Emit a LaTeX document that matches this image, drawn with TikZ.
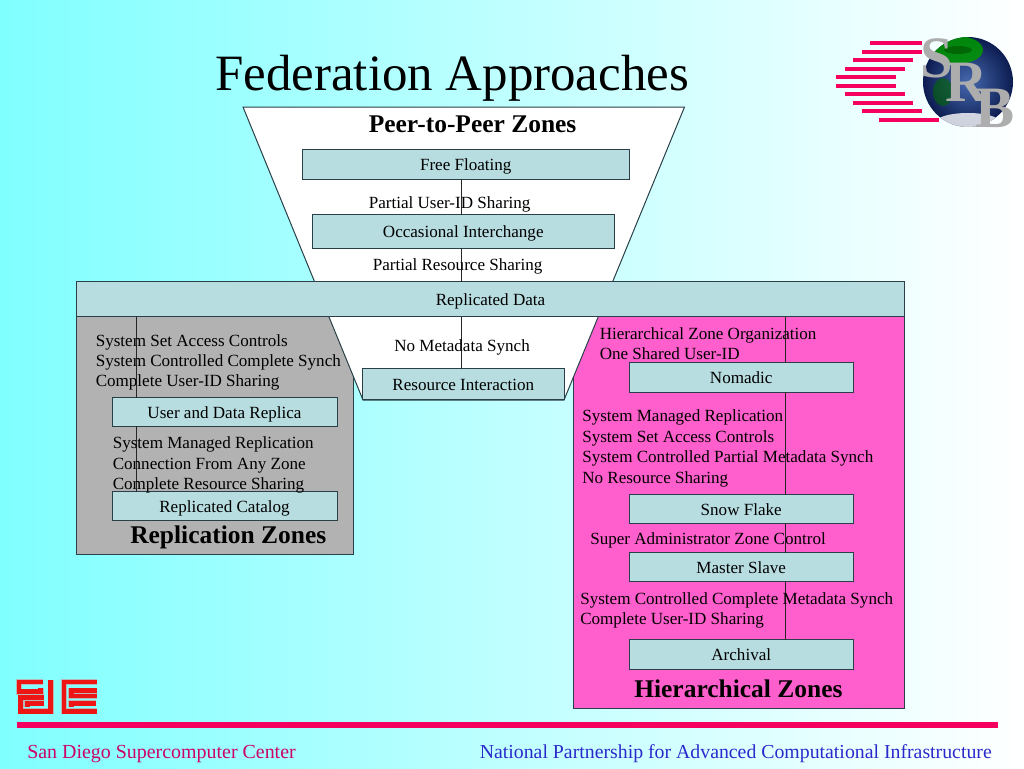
\documentclass[tikz,border=0pt]{standalone}
\usepackage{fontspec}
\setmainfont{Liberation Serif}
\definecolor{boxfill}{HTML}{B8DDE0}
\definecolor{boxline}{HTML}{2A4048}
\definecolor{zonegray}{HTML}{B2B2B2}
\definecolor{zonepink}{HTML}{FF5FCC}
\definecolor{crimsonbar}{HTML}{F5005F}
\definecolor{footred}{HTML}{CC0066}
\definecolor{footblue}{HTML}{2A2ACC}
\definecolor{logored}{HTML}{EE1515}
\tikzset{
  x=0.75pt,y=-0.75pt,
  zonebox/.style={draw=boxline,line width=0.75pt},
  tagbox/.style={draw=boxline,line width=0.75pt,fill=boxfill,inner sep=0pt,outer sep=0pt,
    text height=10pt,text depth=0pt,font=\fontsize{12.8}{14}\selectfont},
  lab/.style={anchor=base west,inner sep=0pt,font=\fontsize{12.8}{14}\selectfont},
  head/.style={anchor=base west,inner sep=0pt,font=\fontsize{19.1}{21}\selectfont\bfseries},
  link/.style={draw=black!85,line width=0.65pt},
  srbbar/.style={fill=crimsonbar,draw=none},
  glyphhalo/.style={draw=black!28,line width=4.4pt,line join=miter},
  glyph/.style={draw=logored,line width=3.5pt,line join=miter},
  srbletter/.style={inner sep=0pt,anchor=base,text=black!32,font=\fontsize{44}{46}\selectfont\bfseries},
}
\newcommand\tagnode[6]{\node[tagbox,minimum width={(#4-#2)*0.75pt},minimum height={(#5-#3)*0.75pt}] (#1) at ({(#2+#4)/2},{(#3+#5)/2}) {#6};}
\begin{document}
\begin{tikzpicture}
\useasboundingbox (0,0) rectangle (1024,768);
\shade[left color={rgb,255:red,128;green,255;blue,255},right color=white] (0,0) rectangle (1024,768);

\node[anchor=base west,inner sep=0pt,font=\fontsize{38.2}{40}\selectfont] (title) at (215,90) {Federation Approaches};

% zones
\draw[zonebox,fill=zonegray] (76.5,316.5) rectangle (353,554);
\draw[zonebox,fill=zonepink] (573.5,316.5) rectangle (904.5,708);
\draw[zonebox,fill=white] (243,107) -- (684.5,107) -- (564,400) -- (363,400) -- cycle;

% tag boxes
\tagnode{ff}{302.5}{149.5}{629}{179}{Free Floating}
\tagnode{oi}{312.5}{214.5}{614}{248}{Occasional Interchange}
\tagnode{rd}{76.5}{281.5}{904.5}{316.5}{Replicated Data}
\tagnode{ri}{362.5}{368.5}{564}{399}{Resource Interaction}
\tagnode{ud}{112}{397.5}{337}{426}{User and Data Replica}
\tagnode{rc}{112}{491.5}{337}{520}{Replicated Catalog}
\tagnode{no}{629}{362.5}{853.5}{392}{Nomadic}
\tagnode{sf}{629}{494.5}{853.5}{523}{Snow Flake}
\tagnode{ms}{629}{552.5}{853.5}{581}{Master Slave}
\tagnode{ar}{629}{639.5}{853.5}{669}{Archival}

% connectors
\coordinate (cx) at (461,0);
\coordinate (lx) at (136.5,0);
\coordinate (rx) at (785,0);
\draw[link] (cx |- ff.south) -- (cx |- oi.north);
\draw[link] (cx |- oi.south) -- (cx |- rd.north);
\draw[link] (cx |- rd.south) -- (cx |- ri.north);
\draw[link] (lx |- rd.south) -- (lx |- ud.north);
\draw[link] (lx |- ud.south) -- (lx |- rc.north);
\draw[link] (rx |- rd.south) -- (rx |- no.north);
\draw[link] (rx |- no.south) -- (rx |- sf.north);
\draw[link] (rx |- sf.south) -- (rx |- ms.north);
\draw[link] (rx |- ms.south) -- (rx |- ar.north);

% free text
\node[head] (h1) at (368.5,132) {Peer-to-Peer Zones};
\node[head] (h2) at (130,543.5) {Replication Zones};
\node[head] (h3) at (634,697.5) {Hierarchical Zones};

\node[lab] (a1) at (368.5,208) {Partial User-ID Sharing};
\node[lab] (a2) at (372.5,270) {Partial Resource Sharing};
\node[lab] (a3) at (394,351) {No Metadata Synch};

\node[lab] (b1) at (95.5,346) {System Set Access Controls};
\node[lab] (b2) at (95.5,366.5) {System Controlled Complete Synch};
\node[lab] (b3) at (95.5,386.5) {Complete User-ID Sharing};
\node[lab] (b4) at (112.5,448.5) {System Managed Replication};
\node[lab] (b5) at (112.5,469) {Connection From Any Zone};
\node[lab] (b6) at (112.5,489.5) {Complete Resource Sharing};

\node[lab] (c1) at (599.5,339) {Hierarchical Zone Organization};
\node[lab] (c2) at (599.5,359.5) {One Shared User-ID};
\node[lab] (c3) at (582,421.5) {System Managed Replication};
\node[lab] (c4) at (582,442) {System Set Access Controls};
\node[lab] (c5) at (582,462.5) {System Controlled Partial Metadata Synch};
\node[lab] (c6) at (582,483) {No Resource Sharing};
\node[lab] (c7) at (590,544) {Super Administrator Zone Control};
\node[lab] (c8) at (580,604.5) {System Controlled Complete Metadata Synch};
\node[lab] (c9) at (580,624.5) {Complete User-ID Sharing};

% SRB logo
\fill[srbbar] (870,41) rectangle (922,45);
\fill[srbbar] (862,50) rectangle (922,54);
\fill[srbbar] (853,58) rectangle (913,62);
\fill[srbbar] (845,67) rectangle (905,71);
\fill[srbbar] (836,75) rectangle (896,79);
\fill[srbbar] (836,84) rectangle (896,88);
\fill[srbbar] (845,92) rectangle (905,96);
\fill[srbbar] (853,101) rectangle (913,105);
\fill[srbbar] (862,109) rectangle (922,113);
\fill[srbbar] (879,118) rectangle (939,122);
\shade[inner color={rgb,255:red,70;green,105;blue,175},outer color={rgb,255:red,12;green,28;blue,80}] (968,82) circle (45);
\begin{scope}
  \clip (968,82) circle (45);
  \fill[green!60!black,opacity=.85] (957,50) ellipse (26 and 14);
  \fill[black!70!green,opacity=.55] (958,50) ellipse (14 and 4);
  \fill[green!40!black,opacity=.6] (943,92) ellipse (10 and 14);
  \fill[white,opacity=.8] (968,122) ellipse (32 and 9);
\end{scope}
\node[srbletter] (ls) at (937,77) {S};
\node[srbletter] (lr) at (967,101) {R};
\node[srbletter] (lb) at (995,127) {B};

% SDSC logo
\begin{scope}[shift={(0,660)},x=0.25pt,y=-0.25pt]
  \foreach \s in {glyphhalo,glyph}{
    \draw[\s] (130,66) -- (57,66) -- (57,95) -- (122,95) -- (122,84);
    \draw[\s] (152,60) -- (152,154) -- (62,154) -- (62,112) -- (132,112);
    \draw[\s] (132,130) -- (82,130) -- (82,140);
    \draw[\s] (290,66) -- (192,66) -- (192,154) -- (290,154);
    \draw[\s] (290,92) -- (214,92) -- (214,108) -- (290,108);
    \draw[\s] (288,130) -- (214,130) -- (214,142);
  }
\end{scope}

% footer
\fill[crimsonbar] (17,722) rectangle (998,728);
\node[anchor=base west,inner sep=0pt,text=footred,font=\fontsize{14.95}{16}\selectfont] (f1) at (27,758) {San Diego Supercomputer Center};
\node[anchor=base east,inner sep=0pt,text=footblue,font=\fontsize{14.85}{16}\selectfont] (f2) at (992,758) {National Partnership for Advanced Computational Infrastructure};
\end{tikzpicture}
\end{document}
